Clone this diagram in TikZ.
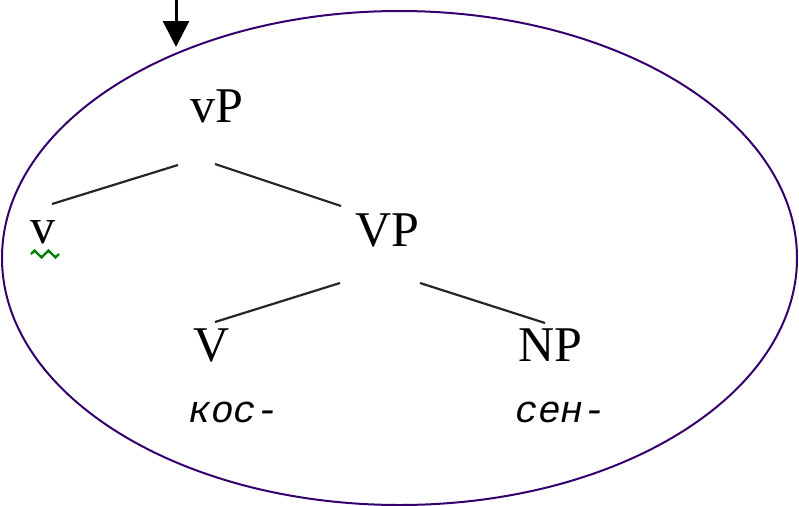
\documentclass[tikz,border=0pt]{standalone}
\usepackage{fontspec}
\setmainfont{Liberation Serif}
\newfontfamily\cyrmono{Liberation Mono}
\usetikzlibrary{arrows.meta,decorations.pathmorphing}
\definecolor{RingColor}{RGB}{51,0,110}
\definecolor{SquiggleColor}{RGB}{0,128,0}

\begin{document}
\begin{tikzpicture}[
	% Define styles and settings
	x=0.5pt, y=-0.5pt,
	label/.style={inner sep=0pt, font=\fontsize{25}{25}\selectfont},
	root/.style={inner sep=0pt, font=\cyrmono\itshape\fontsize{19}{19}\selectfont},
	branch/.style={draw=black!85, line width=1.1pt},
	arrow/.style={-{Triangle[width=13pt,length=13pt]}, line width=1.5pt}
	]
	\useasboundingbox (0,0) rectangle (799,505);
	% \draw[help lines] (0,0) grid (799,505);

	\draw[RingColor, line width=1pt] (399.5,258) ellipse [x radius=397.5, y radius=247];

	\coordinate (Top) at (176,0);
	\coordinate (Entry) at (176,47);
	\draw[arrow] (Top) -- (Entry);

	\draw (217,106) node[label] (vP) {vP};
	\draw (43,232) node[label] (v) {v};
	\draw (387,231) node[label] (VP) {VP};
	\draw (212,345) node[label] (V) {V};
	\draw (550,345) node[label] (NP) {NP};

	\draw (234,412) node[root] (kos) {кос-};
	\draw (561,412) node[root] (sen) {сен-};

	\draw[branch] ([shift={(-39,59)}]vP.center) -- ([shift={(9,-28)}]v.center);
	\draw[branch] ([shift={(-2,58)}]vP.center) -- ([shift={(-46,-25)}]VP.center);
	\draw[branch] ([shift={(-47,52)}]VP.center) -- ([shift={(3,-23)}]V.center);
	\draw[branch] ([shift={(33,52)}]VP.center) -- ([shift={(-5,-22)}]NP.center);

	\draw[SquiggleColor, line width=1.2pt, decorate, decoration={zigzag, segment length=7pt, amplitude=1.7pt}]
		([shift={(-12,22)}]v.center) -- ([shift={(16,22)}]v.center);

\end{tikzpicture}
\end{document}
